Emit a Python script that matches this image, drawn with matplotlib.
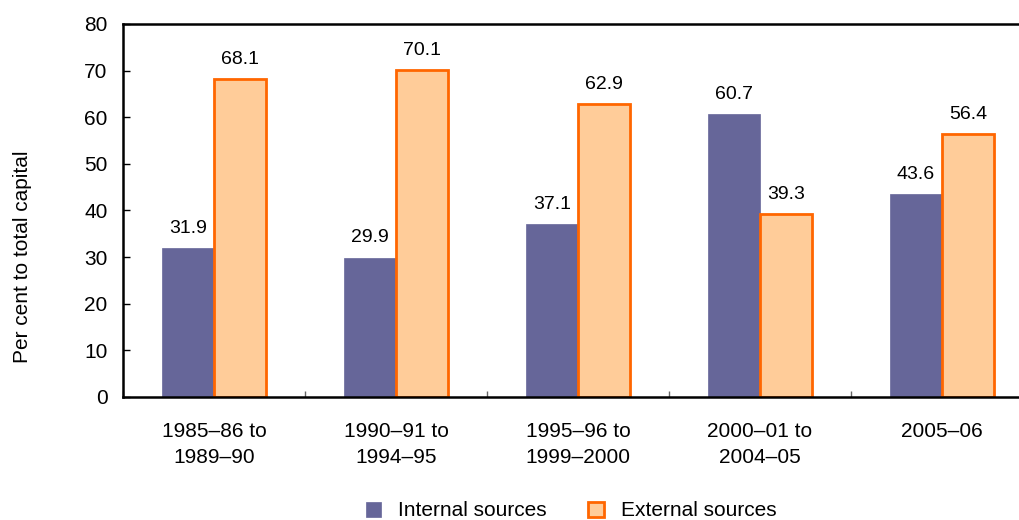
import matplotlib
matplotlib.use("Agg")
import matplotlib.pyplot as plt
import numpy as np

categories = ["1985\u201386 to\n1989\u201390", "1990\u201391 to\n1994\u201395",
              "1995\u201396 to\n1999\u20132000", "2000\u201301 to\n2004\u201305", "2005\u201306"]
internal = [31.9, 29.9, 37.1, 60.7, 43.6]
external = [68.1, 70.1, 62.9, 39.3, 56.4]

plt.rcParams["font.family"] = ["Liberation Sans", "DejaVu Sans"]

BAR_WIDTH = 0.286

fig = plt.figure(figsize=(10.19, 5.2), dpi=100)
ax = fig.add_axes([123/1019, 1-397/520, 910/1019, 373/520])

x = np.arange(len(categories))
b1 = ax.bar(x - BAR_WIDTH/2, internal, width=BAR_WIDTH, color="#666699",
            edgecolor="#666699", linewidth=0.5, label="Internal sources")
b2 = ax.bar(x + BAR_WIDTH/2, external, width=BAR_WIDTH, color="#FFCC99",
            edgecolor="#FF6600", linewidth=2, label="External sources")

for bars, vals in [(b1, internal), (b2, external)]:
    for r, v in zip(bars, vals):
        ax.annotate("{:.1f}".format(v), (r.get_x() + r.get_width()/2, v),
                    xytext=(0, 8), textcoords="offset points",
                    ha="center", va="bottom", fontsize=14)

ax.set_xlim(-0.5, 4.5)
ax.set_ylim(0, 80)
ax.set_yticks(range(0, 81, 10))
ax.tick_params(axis="y", direction="in", length=5, width=1, labelsize=15, pad=11)

ax.set_xticks(x)
ax.set_xticklabels(categories, fontsize=15, linespacing=1.45)
ax.tick_params(axis="x", which="major", length=0, pad=18)
ax.set_xticks(np.arange(-0.5, 5, 1), minor=True)
ax.tick_params(axis="x", which="minor", direction="in", length=4, width=1, color="#666666")

ax.spines["right"].set_visible(False)
for s in ["left", "top", "bottom"]:
    ax.spines[s].set_linewidth(1.8)

ax.set_ylabel("Per cent to total capital", fontsize=15)
ax.yaxis.set_label_coords(-0.1, 0.375)

fig.legend(handles=[b1, b2], loc="center", bbox_to_anchor=(571/1019, 9/520),
           ncol=2, frameon=False, fontsize=15, handlelength=0.75, handleheight=0.75,
           columnspacing=2.0, handletextpad=0.8)

plt.savefig("out.png", dpi=100)
